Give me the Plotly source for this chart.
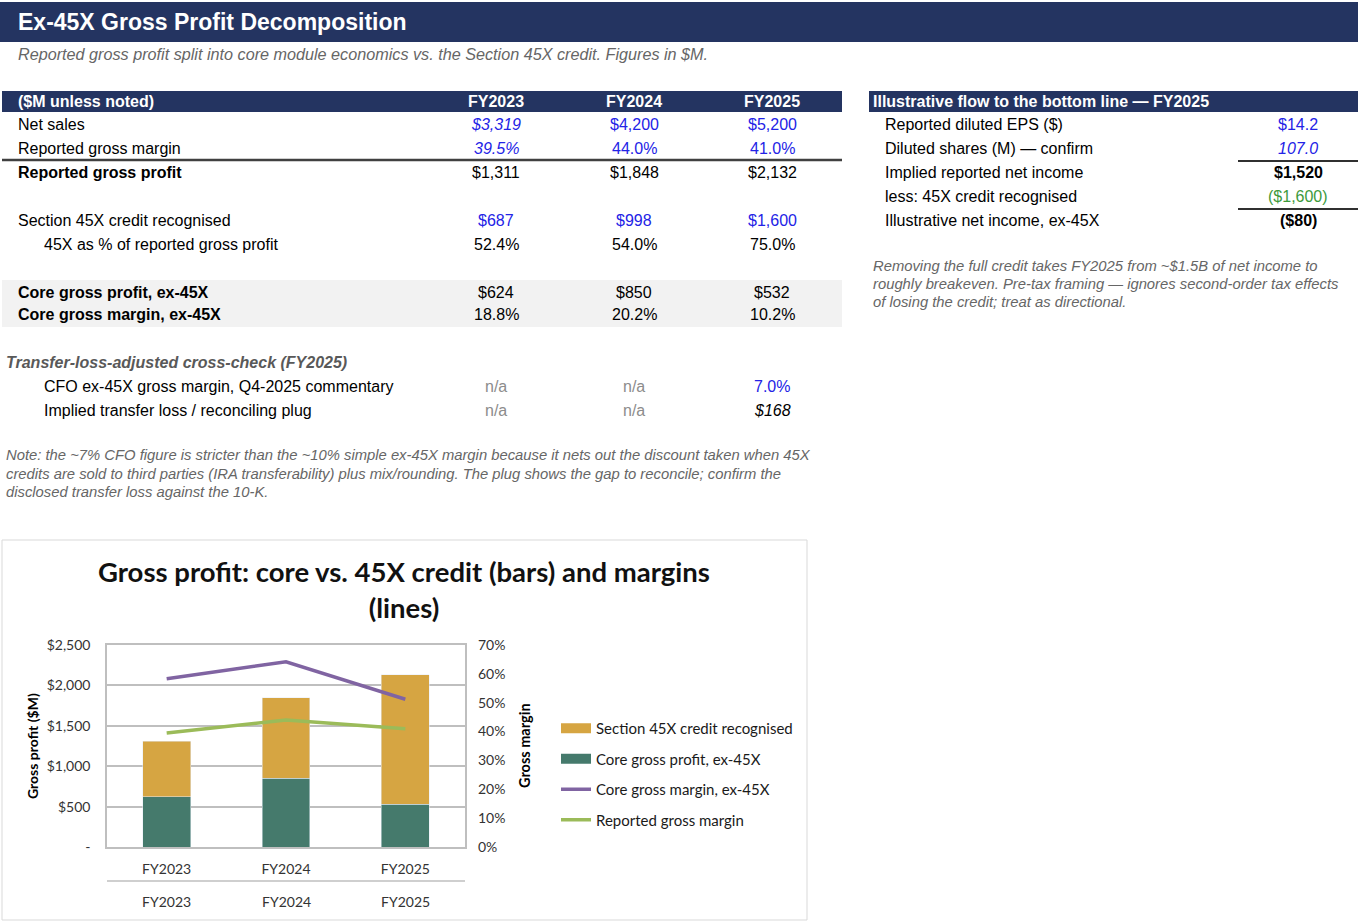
import plotly.graph_objects as go

# ---- data ----
years = ["FY2023", "FY2024", "FY2025"]
net_sales = [3319, 4200, 5200]
reported_gm = [39.5, 44.0, 41.0]
reported_gp = [1311, 1848, 2132]
credit_45x = [687, 998, 1600]
credit_share_gp = [52.4, 54.0, 75.0]
core_gp = [624, 850, 532]
core_gm = [18.8, 20.2, 10.2]
cfo_ex45x_gm = [None, None, 7.0]
transfer_plug = [None, None, 168]

flow_labels = ["Reported diluted EPS ($)", "Diluted shares (M) \u2014 confirm",
               "Implied reported net income", "less: 45X credit recognised",
               "Illustrative net income, ex-45X"]
diluted_eps = 14.2
diluted_shares = 107.0
implied_net_income = 1520
less_credit = -1600
net_income_ex45x = -80

y_left_ticks = [0, 500, 1000, 1500, 2000, 2500]
y_left_ticktext = ["-", "$500", "$1,000", "$1,500", "$2,000", "$2,500"]

# ---- page geometry helpers ----
W, H = 1362, 924
NAVY = "#243461"
BLUE = "#2323e6"
GREY_NA = "#8c8c8c"
NOTE = "#666666"
SANS = "Liberation Sans, Arial, sans-serif"
CHART_FONT = "Lato, Open Sans, sans-serif"
GOLD = "#d6a542"
TEAL = "#457a6c"


def fx(x):
    return x / W


def fy(y):
    return 1 - y / H


fig = go.Figure()


def text(x, y, s, size=16, color="#000000", bold=False, italic=False,
         anchor="left", family=SANS, angle=0):
    if bold:
        s = f"<b>{s}</b>"
    if italic:
        s = f"<i>{s}</i>"
    if anchor == "left":
        x -= 2  # annotation box padding
    fig.add_annotation(x=fx(x), y=fy(y), xref="paper", yref="paper", text=s,
                       showarrow=False, xanchor=anchor, yanchor="middle",
                       align=anchor, textangle=angle,
                       font=dict(family=family, size=size, color=color))


def rect(x0, y0, x1, y1, fill, line=None):
    fig.add_shape(type="rect", xref="paper", yref="paper",
                  x0=fx(x0), x1=fx(x1), y0=fy(y1), y1=fy(y0),
                  fillcolor=fill, layer="below",
                  line=dict(width=1 if line else 0, color=line or fill))


def hline(x0, x1, y, color="#3a3a3a", width=2):
    fig.add_shape(type="line", xref="paper", yref="paper",
                  x0=fx(x0), x1=fx(x1), y0=fy(y), y1=fy(y),
                  line=dict(color=color, width=width))


def money(v):
    return f"(${abs(v):,.0f})" if v < 0 else f"${v:,.0f}"


def pct(v):
    return f"{v:.1f}%"


# ---- title block ----
rect(0, 2, 1358, 42, NAVY)
text(18, 22, "Ex-45X Gross Profit Decomposition", size=23, color="white", bold=True)
text(18, 54, "Reported gross profit split into core module economics vs. the Section 45X credit. Figures in $M.",
     size=16.2, color=NOTE, italic=True)

# ---- left table ----
col_x = [496, 634, 772]
rect(2, 91, 842, 112, NAVY)
text(18, 101.5, "($M unless noted)", color="white", bold=True)
for cx, yr in zip(col_x, years):
    text(cx, 101.5, yr, color="white", bold=True, anchor="center")

rect(2, 280, 842, 327, "#f2f2f2")
hline(2, 842, 160, "#404040", 2.5)


def row(y, label, cells, indent=18, bold_label=False):
    text(indent, y, label, bold=bold_label)
    for cx, (s, color, ital) in zip(col_x, cells):
        if s:
            text(cx, y, s, color=color, italic=ital, anchor="center")


row(125, "Net sales", [(money(v), BLUE, i == 0) for i, v in enumerate(net_sales)])
row(149, "Reported gross margin", [(pct(v), BLUE, i == 0) for i, v in enumerate(reported_gm)])
row(173, "Reported gross profit", [(money(v), "#000", False) for v in reported_gp], bold_label=True)
row(221, "Section 45X credit recognised", [(money(v), BLUE, False) for v in credit_45x])
row(244, "45X as % of reported gross profit", [(pct(v), "#000", False) for v in credit_share_gp], indent=44)
row(292, "Core gross profit, ex-45X", [(money(v), "#000", False) for v in core_gp], bold_label=True)
row(315, "Core gross margin, ex-45X", [(pct(v), "#000", False) for v in core_gm], bold_label=True)

text(6, 363, "Transfer-loss-adjusted cross-check (FY2025)", color="#595959", bold=True, italic=True)
row(387, "CFO ex-45X gross margin, Q4-2025 commentary",
    [("n/a", GREY_NA, False) if v is None else (pct(v), BLUE, False) for v in cfo_ex45x_gm], indent=44)
row(411, "Implied transfer loss / reconciling plug",
    [("n/a", GREY_NA, False) if v is None else (money(v), "#000", True) for v in transfer_plug], indent=44)

left_note = ["Note: the ~7% CFO figure is stricter than the ~10% simple ex-45X margin because it nets out the discount taken when 45X",
             "credits are sold to third parties (IRA transferability) plus mix/rounding. The plug shows the gap to reconcile; confirm the",
             "disclosed transfer loss against the 10-K."]
for k, line in enumerate(left_note):
    text(6, 455 + k * 18.5, line, size=14.8, color=NOTE, italic=True)

# ---- right panel ----
rect(869, 91, 1358, 112, NAVY)
text(873, 101.5, "Illustrative flow to the bottom line \u2014 FY2025", color="white", bold=True)
vx = 1298
flow_values = [(f"${diluted_eps:.1f}", BLUE, False, False),
               (f"{diluted_shares:.1f}", BLUE, True, False),
               (money(implied_net_income), "#000", False, True),
               (money(less_credit), "#3c9a3c", False, False),
               (money(net_income_ex45x), "#000", False, True)]
for k, (lab, (s, color, ital, bld)) in enumerate(zip(flow_labels, flow_values)):
    y = 125 + k * 24
    text(885, y, lab)
    text(vx, y, s, color=color, italic=ital, bold=bld, anchor="center")
hline(1238, 1358, 161, "#303030", 2)
hline(1238, 1358, 209, "#303030", 2)

right_note = ["Removing the full credit takes FY2025 from ~$1.5B of net income to",
              "roughly breakeven. Pre-tax framing \u2014 ignores second-order tax effects",
              "of losing the credit; treat as directional."]
for k, line in enumerate(right_note):
    text(873, 266 + k * 18, line, size=14.8, color=NOTE, italic=True)

# ---- chart ----
rect(2, 540, 807, 920, "white", "#d9d9d9")

fig.add_bar(x=years, y=core_gp, name="Core gross profit, ex-45X",
            marker_color=TEAL, showlegend=False)
fig.add_bar(x=years, y=credit_45x, name="Section 45X credit recognised",
            marker_color=GOLD, showlegend=False)
# Excel chart stacks the two margin lines
fig.add_scatter(x=years, y=reported_gm, name="Reported gross margin", yaxis="y2",
                mode="lines", stackgroup="m", fill="none",
                line=dict(color="#9bbb59", width=3.5), legendrank=4, legendgroup="d")
fig.add_scatter(x=years, y=core_gm, name="Core gross margin, ex-45X", yaxis="y2",
                mode="lines", stackgroup="m", fill="none",
                line=dict(color="#8064a2", width=3.5), legendrank=3, legendgroup="c")
# wide legend swatches for the bar series, as in Excel
fig.add_scatter(x=[None], y=[None], mode="lines", name="Section 45X credit recognised",
                line=dict(color=GOLD, width=10), legendrank=1, legendgroup="a")
fig.add_scatter(x=[None], y=[None], mode="lines", name="Core gross profit, ex-45X",
                line=dict(color=TEAL, width=10), legendrank=2, legendgroup="b")

tick_font = dict(family=CHART_FONT, size=14, color="#333333")
px0, px1, py0, py1 = 107, 465, 645, 847

text(404, 589, "Gross profit: core vs. 45X credit (bars) and margins<br>(lines)",
     size=27.5, color="#111111", bold=True, anchor="center", family=CHART_FONT)
text(32, 746, "Gross profit ($M)", size=14, bold=True, anchor="center",
     family=CHART_FONT, angle=-90)
text(524, 746, "Gross margin", size=14.5, bold=True, anchor="center",
     family=CHART_FONT, angle=-90)

for yr in years:
    fig.add_annotation(x=yr, xref="x", y=fy(901), yref="paper", text=yr,
                       xanchor="center", yanchor="middle",
                       showarrow=False, font=tick_font)
fig.add_shape(type="line", xref="x domain", yref="paper", x0=0, x1=1,
              y0=fy(881), y1=fy(881), line=dict(color="#bfbfbf", width=1.5))

fig.update_layout(
    width=W, height=H,
    margin=dict(l=0, r=0, t=0, b=0, pad=0, autoexpand=False),
    paper_bgcolor="white", plot_bgcolor="white",
    barmode="stack", bargap=0.6,
    showlegend=True,
    legend=dict(x=fx(556), y=fy(774), xanchor="left", yanchor="middle",
                font=dict(family=CHART_FONT, size=15, color="#1a1a1a"),
                tracegroupgap=8, bgcolor="rgba(0,0,0,0)"),
    xaxis=dict(domain=[fx(px0), fx(px1)], type="category", tickfont=tick_font,
               showline=True, linecolor="#bfbfbf", linewidth=1.5, mirror=True,
               ticks="", ticklabelstandoff=8, automargin=False),
    yaxis=dict(domain=[fy(py1), fy(py0)], range=[0, 2500],
               tickvals=y_left_ticks, ticktext=y_left_ticktext, tickfont=tick_font,
               showgrid=True, gridcolor="#bfbfbf", gridwidth=1.5, zeroline=False,
               showline=True, linecolor="#bfbfbf", linewidth=1.5, mirror=True,
               ticks="", ticklabelstandoff=12, automargin=False),
    yaxis2=dict(overlaying="y", side="right", range=[0, 70], dtick=10,
                ticksuffix="%", tickfont=tick_font, showgrid=False, zeroline=False,
                showline=False, ticks="", ticklabelstandoff=12, automargin=False),
)

fig.write_html("out.html", config={"displayModeBar": False},
               post_script="document.body.style.margin='0';document.body.style.overflow='hidden';")
